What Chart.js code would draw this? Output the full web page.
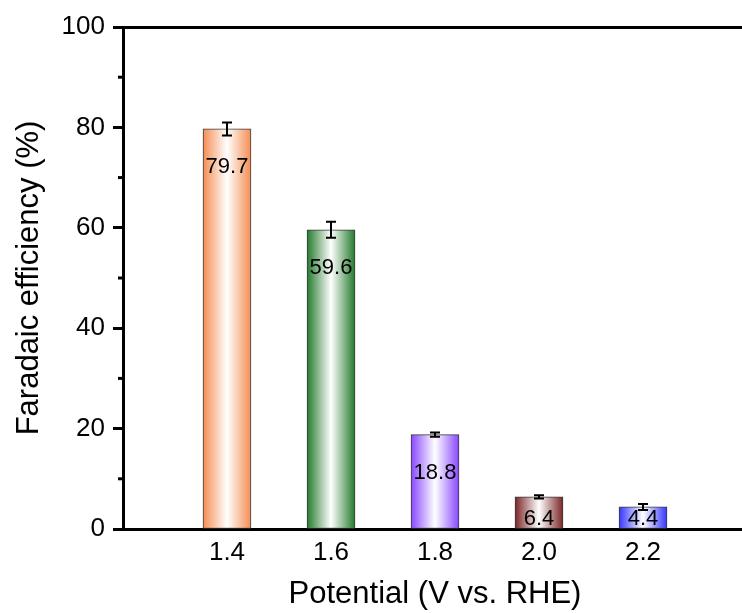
<!DOCTYPE html>
<html>
<head>
<meta charset="utf-8">
<script src="https://cdn.jsdelivr.net/npm/chart.js@4.4.0/dist/chart.umd.min.js"></script>
<style>
  html, body { margin: 0; padding: 0; background: #fff; overflow: hidden; }
  #wrap { width: 742px; height: 613px; overflow: hidden; }
  #wrap canvas { display: block; }
</style>
</head>
<body>
<div id="wrap"><canvas id="chart" width="750" height="613"></canvas></div>
<script>
// ---------------- Data ----------------
const potentials = [1.4, 1.6, 1.8, 2.0, 2.2];
const efficiency = [79.7, 59.6, 18.8, 6.4, 4.4];
const errors = [1.3, 1.6, 0.4, 0.3, 0.6];
const barColors = ['#f48d52', '#237a2c', '#8747ff', '#7a2424', '#3535ff'];
const yTicks = [0, 20, 40, 60, 80, 100];
const yMinorTicks = [10, 30, 50, 70, 90];

const FONT = '"Liberation Sans", Arial, sans-serif';
const BAR_W = 48;

function barFill(ctx){
    const chart = ctx.chart;
    const i = ctx.dataIndex;
    if(!chart.chartArea || i === undefined) return barColors[i] || '#ccc';
    const cx = chart.scales.x.getPixelForValue(potentials[i]);
    const g = chart.ctx.createLinearGradient(cx - BAR_W/2, 0, cx + BAR_W/2, 0);
    g.addColorStop(0, barColors[i]);
    g.addColorStop(0.5, '#ffffff');
    g.addColorStop(1, barColors[i]);
    return g;
}

// ---------------- Extra drawing: minor ticks, error bars, labels ----------------
const extras = {
    id: 'extras',
    afterDatasetsDraw(chart){
        const c = chart.ctx, xs = chart.scales.x, ys = chart.scales.y;
        c.save();
        // minor ticks
        c.strokeStyle = '#000'; c.lineWidth = 3;
        yMinorTicks.forEach(v=>{
            const y = ys.getPixelForValue(v);
            c.beginPath(); c.moveTo(xs.left - 5, y); c.lineTo(xs.left, y); c.stroke();
        });
        // error bars
        c.lineWidth = 2;
        potentials.forEach((p,i)=>{
            const x = xs.getPixelForValue(p);
            const y1 = ys.getPixelForValue(efficiency[i] + errors[i]);
            const y2 = ys.getPixelForValue(efficiency[i] - errors[i]);
            c.beginPath();
            c.moveTo(x, y1); c.lineTo(x, y2);
            c.moveTo(x - 5, y1); c.lineTo(x + 5, y1);
            c.moveTo(x - 5, y2); c.lineTo(x + 5, y2);
            c.stroke();
        });
        // value labels
        c.fillStyle = '#000';
        c.font = '22px ' + FONT;
        c.textAlign = 'center'; c.textBaseline = 'middle';
        potentials.forEach((p,i)=>{
            const x = xs.getPixelForValue(p);
            const top = ys.getPixelForValue(efficiency[i]);
            const y = Math.min(top + 38, ys.bottom - 10);
            c.fillText(efficiency[i].toFixed(1), x, y);
        });
        c.restore();
    }
};

new Chart(document.getElementById('chart'), {
    type: 'bar',
    data: {
        datasets: [{
            data: potentials.map((p,i)=>({x: p, y: efficiency[i]})),
            backgroundColor: barFill,
            borderColor: '#3a3a3a',
            borderWidth: 1,
            borderSkipped: false,
            barThickness: BAR_W
        }]
    },
    options: {
        responsive: false,
        animation: false,
        layout: { padding: { top: 27, right: 3, left: 0, bottom: 0 } },
        plugins: { legend: { display: false }, tooltip: { enabled: false } },
        scales: {
            x: {
                type: 'linear', min: 1.2, max: 2.4, offset: false,
                afterBuildTicks: s => { s.ticks = potentials.map(v=>({value: v})); },
                afterFit: s => { s.height = 84; },
                grid: { display: false, drawTicks: false },
                border: { color: '#000', width: 3 },
                ticks: { color: '#000', font: { size: 26, family: FONT }, padding: 8,
                         callback: v => v.toFixed(1), maxRotation: 0 },
                title: { display: true, text: 'Potential (V vs. RHE)', color: '#000',
                         font: { size: 31, family: FONT }, padding: { top: 4, bottom: 0 } }
            },
            xTop: {
                type: 'linear', position: 'top', min: 1.2, max: 2.4, offset: false,
                afterFit: s => { s.height = 0; },
                grid: { display: false, drawTicks: false },
                border: { color: '#000', width: 3 },
                ticks: { display: false }
            },
            y: {
                min: 0, max: 100,
                afterBuildTicks: s => { s.ticks = yTicks.map(v=>({value: v})); },
                afterFit: s => { s.width = 123; },
                grid: { display: true, drawOnChartArea: false, drawTicks: true, tickLength: 10,
                        tickWidth: 3, tickColor: '#000' },
                border: { color: '#000', width: 3 },
                ticks: { color: '#000', font: { size: 26, family: FONT }, padding: 8 },
                title: { display: true, text: 'Faradaic efficiency (%)', color: '#000',
                         font: { size: 31, family: FONT }, padding: { top: 11, bottom: 0 } }
            }
        }
    },
    plugins: [extras]
});
</script>
</body>
</html>
